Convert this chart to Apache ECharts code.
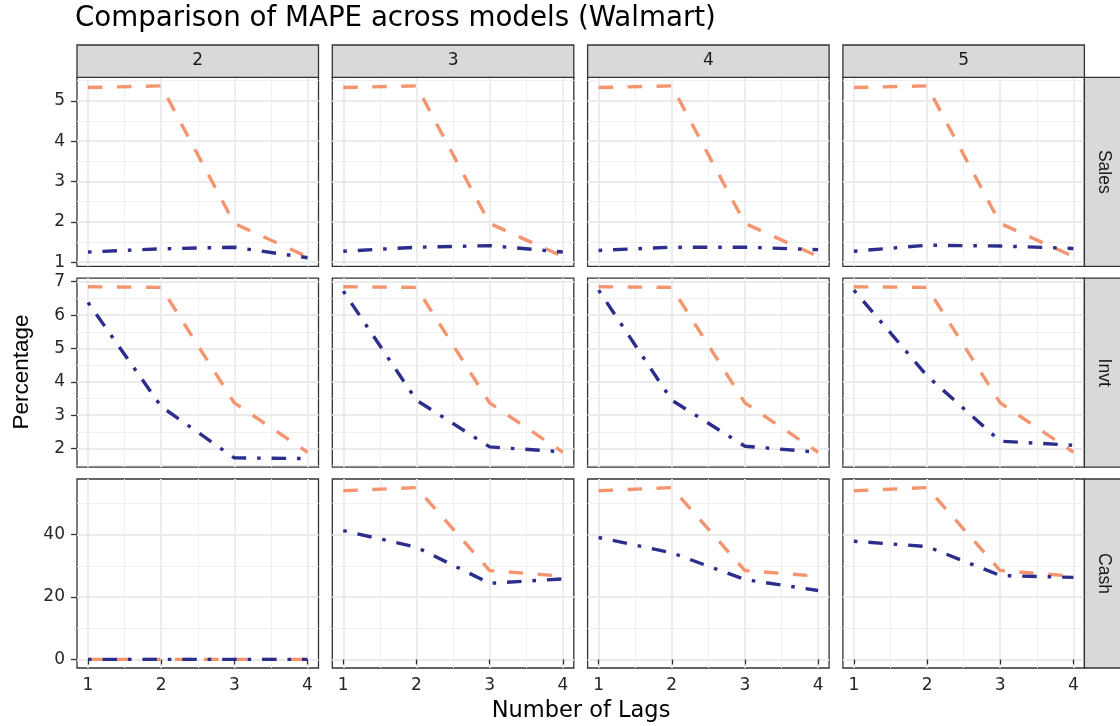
<!DOCTYPE html>
<html><head><meta charset="utf-8">
<script src="https://cdn.jsdelivr.net/npm/echarts@6/dist/echarts.min.js"></script>
<style>html,body{margin:0;padding:0;background:#fff}#c{width:1120px;height:726px}</style>
</head><body><div id="c"></div>
<script>
// ---- data ----
const lags = [1, 2, 3, 4];
const colLabels = ['2', '3', '4', '5'];
const rowLabels = ['Sales', 'Invt', 'Cash'];
const xTicks = [1, 2, 3, 4];
const xMinor = [1.5, 2.5, 3.5];
const salesTicks = [1, 2, 3, 4, 5];
const salesMinor = [1.5, 2.5, 3.5, 4.5, 5.5];
const invtTicks = [2, 3, 4, 5, 6, 7];
const invtMinor = [1.5, 2.5, 3.5, 4.5, 5.5, 6.5];
const cashTicks = [0, 20, 40];
const cashMinor = [10, 30, 50];

// orange dashed series, one array per column (2,3,4,5)
const salesDashed = [
  [5.33, 5.37, 1.96, 1.13],
  [5.33, 5.37, 1.96, 1.14],
  [5.33, 5.37, 1.96, 1.14],
  [5.33, 5.37, 1.96, 1.14]
];
// navy dot-dash series
const salesDotdash = [
  [1.25, 1.33, 1.37, 1.11],
  [1.27, 1.37, 1.41, 1.25],
  [1.29, 1.37, 1.37, 1.31],
  [1.27, 1.42, 1.40, 1.34]
];
const invtDashed = [
  [6.85, 6.83, 3.37, 1.89],
  [6.85, 6.83, 3.37, 1.89],
  [6.85, 6.83, 3.37, 1.89],
  [6.85, 6.83, 3.37, 1.89]
];
const invtDotdash = [
  [6.38, 3.26, 1.72, 1.70],
  [6.72, 3.45, 2.05, 1.90],
  [6.75, 3.45, 2.07, 1.89],
  [6.75, 4.18, 2.22, 2.10]
];
const cashDashed = [
  [0, 0, 0, 0],
  [54.1, 55.1, 28.5, 26.7],
  [54.1, 55.1, 28.5, 26.7],
  [54.1, 55.1, 28.5, 26.7]
];
const cashDotdash = [
  [0, 0, 0, 0],
  [41.3, 36.0, 24.4, 25.8],
  [39.1, 34.2, 25.6, 22.1],
  [37.9, 36.2, 26.9, 26.3]
];

// ---- layout / style ----
const FONT = 'DejaVu Sans';
const ORANGE = '#F4956F';
const NAVY = '#2B2E8C';
const L0 = 77, COL_STEP = 255.3, COL_W = 241.5;
const T0 = 77.3, ROW_STEP = 200.85, ROW_H = 189;

const rows = [
  {ticks: salesTicks, minor: salesMinor, dashed: salesDashed, dotdash: salesDotdash},
  {ticks: invtTicks, minor: invtMinor, dashed: invtDashed, dotdash: invtDotdash},
  {ticks: cashTicks, minor: cashMinor, dashed: cashDashed, dotdash: cashDotdash}
];

const grids = [], xAxes = [], yAxes = [], series = [], graphics = [];

rows.forEach((row, r) => {
  const all = row.dashed.flat().concat(row.dotdash.flat());
  const lo = Math.min(...all), hi = Math.max(...all), pad = (hi - lo) * 0.05;
  const ymin = lo - pad, ymax = hi + pad;
  for (let c = 0; c < 4; c++) {
    const gi = grids.length;
    grids.push({
      left: L0 + c * COL_STEP, top: T0 + r * ROW_STEP, width: COL_W, height: ROW_H,
      show: true, borderColor: '#333', borderWidth: 1.3, backgroundColor: '#fff',
      containLabel: false, outerBoundsMode: 'none'
    });
    const isBottom = r === 2, isLeft = c === 0;
    xAxes.push({
      gridIndex: gi, type: 'value', min: 0.85, max: 4.15, position: 'bottom',
      axisLine: {show: false},
      axisTick: {show: isBottom, length: 5, customValues: xTicks, lineStyle: {color: '#333', width: 1.3}},
      axisLabel: {show: isBottom, customValues: xTicks, margin: 9, fontSize: 17, color: '#262626', fontFamily: FONT},
      splitLine: {show: true, lineStyle: {color: '#EBEBEB', width: 1.8}}
    });
    xAxes.push({
      gridIndex: gi, type: 'value', min: 0.85, max: 4.15, position: 'bottom',
      axisLine: {show: false},
      axisTick: {show: false, customValues: xMinor},
      axisLabel: {show: false, customValues: xMinor},
      splitLine: {show: true, lineStyle: {color: '#EFEFEF', width: 1}}
    });
    yAxes.push({
      gridIndex: gi, type: 'value', min: ymin, max: ymax, position: 'left',
      axisLine: {show: false},
      axisTick: {show: isLeft, length: 6, customValues: row.ticks, lineStyle: {color: '#333', width: 1.3}},
      axisLabel: {show: isLeft, customValues: row.ticks, margin: 12, fontSize: 17, color: '#262626', fontFamily: FONT},
      splitLine: {show: true, lineStyle: {color: '#EBEBEB', width: 1.8}}
    });
    yAxes.push({
      gridIndex: gi, type: 'value', min: ymin, max: ymax, position: 'left',
      axisLine: {show: false},
      axisTick: {show: false, customValues: row.minor},
      axisLabel: {show: false, customValues: row.minor},
      splitLine: {show: true, lineStyle: {color: '#EFEFEF', width: 1}}
    });
    const xi = 2 * gi, yi = 2 * gi;
    series.push({
      type: 'line', xAxisIndex: xi, yAxisIndex: yi, symbol: 'none', silent: true, animation: false,
      data: lags.map((x, i) => [x, row.dashed[c][i]]),
      lineStyle: {color: ORANGE, width: 3.4, type: [14.5, 14.5], cap: 'butt', join: 'round'}, z: 3
    });
    series.push({
      type: 'line', xAxisIndex: xi, yAxisIndex: yi, symbol: 'none', silent: true, animation: false,
      data: lags.map((x, i) => [x, row.dotdash[c][i]]),
      lineStyle: {color: NAVY, width: 3.4, type: [3.6, 10.9, 14.5, 10.9], cap: 'butt', join: 'round'}, z: 4
    });
  }
  // right strip
  const top = T0 + r * ROW_STEP;
  graphics.push({
    type: 'rect', shape: {x: L0 + 3 * COL_STEP + COL_W, y: top, width: 50, height: ROW_H},
    style: {fill: '#D9D9D9', stroke: '#333', lineWidth: 1.3}, z: 10
  });
  graphics.push({
    type: 'text', x: 1103.5, y: top + ROW_H / 2, rotation: -Math.PI / 2,
    style: {text: rowLabels[r], font: '17.5px "Liberation Sans"', fill: '#1A1A1A', textAlign: 'center', textVerticalAlign: 'middle'}, z: 11
  });
});

// top strips
colLabels.forEach((lab, c) => {
  const x = L0 + c * COL_STEP;
  graphics.push({
    type: 'rect', shape: {x: x, y: 45, width: COL_W, height: T0 - 45},
    style: {fill: '#D9D9D9', stroke: '#333', lineWidth: 1.3}, z: 10
  });
  graphics.push({
    type: 'text', x: x + COL_W / 2, y: 61,
    style: {text: lab, font: '17px "DejaVu Sans"', fill: '#1A1A1A', textAlign: 'center', textVerticalAlign: 'middle'}, z: 11
  });
});

// titles
graphics.push({
  type: 'text', x: 75, y: 19,
  style: {text: 'Comparison of MAPE across models (Walmart)', font: '27.7px "DejaVu Sans"', fill: '#000', textAlign: 'left', textVerticalAlign: 'middle'}
});
graphics.push({
  type: 'text', x: 581, y: 711,
  style: {text: 'Number of Lags', font: '22.5px "DejaVu Sans"', fill: '#000', textAlign: 'center', textVerticalAlign: 'middle'}
});
graphics.push({
  type: 'text', x: 22, y: 372, rotation: Math.PI / 2,
  style: {text: 'Percentage', font: '22.5px "Liberation Sans"', fill: '#000', textAlign: 'center', textVerticalAlign: 'middle'}
});

const chart = echarts.init(document.getElementById('c'), null, {renderer: 'canvas'});
chart.setOption({
  animation: false,
  backgroundColor: '#fff',
  grid: grids, xAxis: xAxes, yAxis: yAxes, series: series,
  graphic: {elements: graphics}
});
</script>
</body></html>
